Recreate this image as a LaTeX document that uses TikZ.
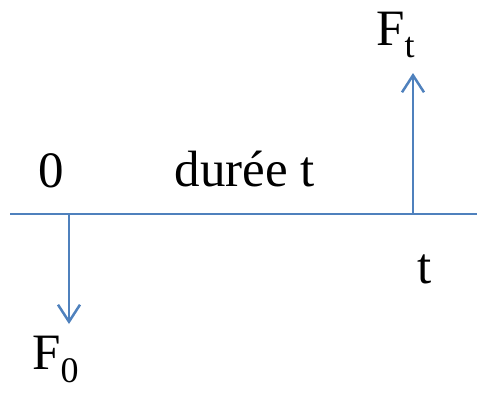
\documentclass[tikz,border=0pt]{standalone}
\usepackage{fontspec}
\setmainfont{Liberation Serif}
\usetikzlibrary{arrows.meta}
\definecolor{lineblue}{RGB}{79,129,189}
\tikzset{
  axis/.style={draw=lineblue,line width=2.5pt},
  force/.style={draw=lineblue,line width=2.5pt,-{Straight Barb[length=17pt,width=22pt,line width=2.5pt]}},
  lbl/.style={inner sep=0pt,anchor=base,font=\fontsize{51}{60}\selectfont},
  lblw/.style={lbl,anchor=base west}
}
\newcommand{\subsc}[2]{\raisebox{-#1}{\fontsize{36}{42}\selectfont #2}}
\begin{document}
\begin{tikzpicture}[x=1pt,y=-1pt]
\useasboundingbox (0,0) rectangle (477,392);
\coordinate (l) at (10,214);
\coordinate (r) at (477,214);
\coordinate (o) at (69,214);
\coordinate (d) at (69,324);
\coordinate (tt) at (413,214);
\coordinate (u) at (413,73);
\draw[axis] (l) -- (r);
\draw[force] (o) -- (d);
\draw[force] (tt) -- (u);
\node[lblw] (ft) at (376,45) {F\subsc{12pt}{t}};
\node[lbl] (zero) at (51,187) {0};
\node[lbl] (duree) at (245,186) {durée t};
\node[lbl] (t) at (425,283) {t};
\node[lblw] (f0) at (32,369) {F\subsc{13pt}{0}};
\end{tikzpicture}
\end{document}
